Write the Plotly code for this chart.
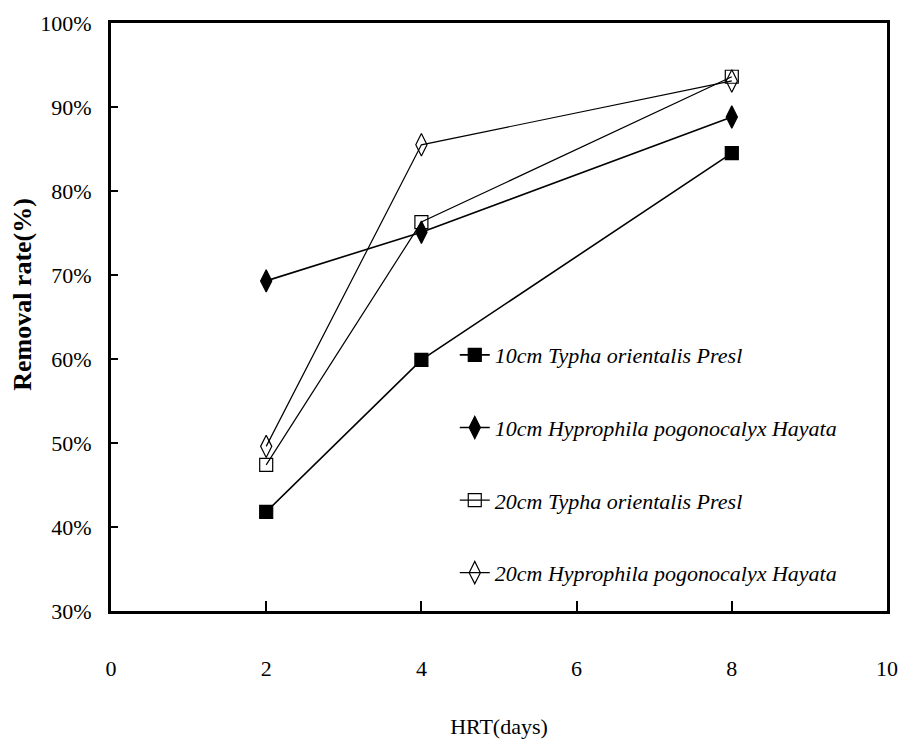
import plotly.graph_objects as go

hrt_days = [2, 4, 8]
series_names = [
    "10cm Typha orientalis Presl",
    "10cm Hyprophila pogonocalyx Hayata",
    "20cm Typha orientalis Presl",
    "20cm Hyprophila pogonocalyx Hayata",
]
typha_10cm = [41.8, 59.9, 84.5]
hypro_10cm = [69.3, 75.1, 88.8]
typha_20cm = [47.4, 76.3, 93.6]
hypro_20cm = [49.6, 85.5, 93.1]

x_ticks = [0, 2, 4, 6, 8, 10]
y_ticks = [30, 40, 50, 60, 70, 80, 90, 100]
y_tick_labels = [f"{v}%" for v in y_ticks]

series_values = [typha_10cm, hypro_10cm, typha_20cm, hypro_20cm]
symbols = ["square", "diamond-tall", "square-open", "diamond-tall-open"]
sizes = [13, 16, 13, 16]
widths = [1.6, 1.6, 1.2, 1.2]

SERIF = "Liberation Serif, Times New Roman, serif"

fig = go.Figure()
for i, (name, vals) in enumerate(zip(series_names, series_values)):
    fig.add_trace(go.Scatter(
        x=hrt_days, y=vals, name=name, mode="lines+markers",
        legendgroup=f"g{i}",
        line=dict(color="black", width=widths[i]),
        marker=dict(symbol=symbols[i], size=sizes[i], color="black",
                    line=dict(color="black", width=1.2)),
    ))

fig.update_layout(
    width=902, height=746,
    margin=dict(l=111, r=15, t=23, b=135, autoexpand=False),
    paper_bgcolor="white", plot_bgcolor="white",
    font=dict(family=SERIF, color="black", size=21),
    legend=dict(
        x=0.443, y=0.471, xanchor="left", yanchor="top",
        bgcolor="rgba(0,0,0,0)", borderwidth=0,
        traceorder="grouped", tracegroupgap=41,
        font=dict(family=SERIF, size=22, style="italic", color="black"),
    ),
    xaxis=dict(
        range=[0, 10], tickvals=x_ticks, ticktext=[str(v) for v in x_ticks],
        showgrid=False, zeroline=False,
        showline=True, linecolor="black", linewidth=3, mirror=True,
        ticks="inside", ticklen=10, tickwidth=1.5, tickcolor="black",
        ticklabelstandoff=36,
        tickfont=dict(family=SERIF, size=22),
        title=dict(text="HRT(days)", font=dict(family=SERIF, size=22), standoff=39),
    ),
    yaxis=dict(
        range=[30, 100], tickvals=y_ticks, ticktext=y_tick_labels,
        showgrid=False, zeroline=False,
        showline=True, linecolor="black", linewidth=3, mirror=True,
        ticks="inside", ticklen=7, tickwidth=2, tickcolor="black",
        ticklabelstandoff=12,
        tickfont=dict(family=SERIF, size=22),
    ),
    annotations=[dict(
        text="<b>Removal rate(%)</b>", textangle=-90,
        xref="paper", yref="paper", x=-0.115, y=0.539,
        xanchor="center", yanchor="middle", showarrow=False,
        font=dict(family=SERIF, size=26, color="black"),
    )],
)

fig.write_html("out.html", config={"displayModeBar": False},
               post_script="document.body.style.margin='0';")
